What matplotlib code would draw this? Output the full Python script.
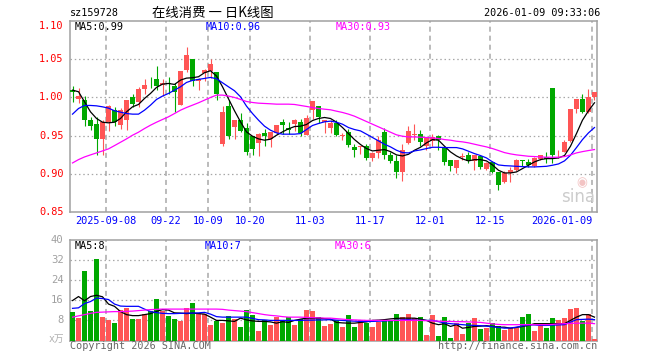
import numpy as np
import matplotlib
matplotlib.use("Agg")
import matplotlib.pyplot as plt

# daily candles, sz159728 (oldest -> newest)
opens = [1.010, 0.998, 0.997, 0.970, 0.965, 0.946, 0.968, 0.983, 0.964, 0.970,
         1.000, 0.994, 1.011, 1.023, 1.024, 1.016, 1.019, 1.015, 0.990, 1.036,
         1.050, 1.021, 1.032, 1.035, 1.034, 0.939, 0.989, 0.961, 0.971, 0.9605,
         0.950, 0.940, 0.9535, 0.945, 0.9535, 0.9675, 0.9605, 0.965, 0.9675, 0.9504,
         0.983, 0.9886, 0.9675, 0.9596, 0.9667, 0.949, 0.9548, 0.935, 0.935, 0.936,
         0.9211, 0.9272, 0.9548, 0.9241, 0.9167, 0.9022, 0.9404, 0.9504, 0.9526, 0.936,
         0.943, 0.9491, 0.9342, 0.9184, 0.9079, 0.9219, 0.9241, 0.9167, 0.9228, 0.9066,
         0.9154, 0.9022, 0.889, 0.9009, 0.9044, 0.9184, 0.9154, 0.9096, 0.9197, 0.9219,
         1.0118, 0.9254, 0.9285, 0.943, 0.9855, 0.9974, 0.9811, 1.000]
highs = [1.015, 1.013, 1.002, 0.975, 0.974, 0.971, 0.990, 0.988, 0.986, 0.997,
         1.005, 1.014, 1.024, 1.027, 1.041, 1.024, 1.027, 1.019, 1.035, 1.066,
         1.050, 1.026, 1.038, 1.050, 1.034, 0.989, 0.997, 0.971, 0.979, 0.966,
         0.950, 0.9535, 0.958, 0.955, 0.9636, 0.972, 0.968, 0.972, 0.972, 0.977,
         0.995, 0.9886, 0.971, 0.971, 0.971, 0.9535, 0.958, 0.9395, 0.9368, 0.9386,
         0.9285, 0.949, 0.9605, 0.9285, 0.9241, 0.9386, 0.9623, 0.9649, 0.9579, 0.9474,
         0.9518, 0.9504, 0.9342, 0.9184, 0.9184, 0.9272, 0.9285, 0.9241, 0.9241, 0.9154,
         0.9167, 0.9022, 0.9035, 0.9088, 0.9197, 0.9184, 0.9197, 0.9219, 0.9241, 0.9285,
         1.0118, 0.9316, 0.9447, 0.9855, 0.9974, 1.0044, 1.0105, 1.0075]
lows = [0.994, 0.993, 0.962, 0.957, 0.924, 0.924, 0.956, 0.963, 0.958, 0.957,
        0.988, 0.988, 1.004, 1.013, 1.010, 1.002, 1.005, 0.981, 0.990, 1.034,
        1.015, 1.010, 1.021, 1.026, 0.997, 0.936, 0.945, 0.945, 0.954, 0.924,
        0.925, 0.923, 0.936, 0.935, 0.9526, 0.952, 0.952, 0.956, 0.949, 0.9504,
        0.972, 0.9667, 0.9535, 0.9535, 0.949, 0.9447, 0.935, 0.922, 0.9254, 0.9184,
        0.9167, 0.921, 0.9197, 0.914, 0.8947, 0.8904, 0.9386, 0.9447, 0.936, 0.9307,
        0.936, 0.9316, 0.911, 0.9035, 0.9009, 0.9175, 0.914, 0.9053, 0.9066, 0.9044,
        0.9009, 0.8789, 0.8877, 0.889, 0.9035, 0.9096, 0.9088, 0.9088, 0.9184, 0.914,
        0.914, 0.9211, 0.9285, 0.9417, 0.9798, 0.9798, 0.9798, 0.9965]
closes = [1.007, 1.002, 0.970, 0.962, 0.946, 0.968, 0.989, 0.968, 0.983, 0.997,
          0.992, 1.011, 1.016, 1.0225, 1.015, 1.019, 1.0175, 1.0075, 1.035, 1.056,
          1.021, 1.024, 1.036, 1.044, 1.004, 0.981, 0.950, 0.971, 0.956, 0.9285,
          0.932, 0.9526, 0.949, 0.955, 0.9636, 0.9636, 0.957, 0.970, 0.9535, 0.9724,
          0.995, 0.9746, 0.970, 0.9667, 0.9504, 0.9504, 0.9373, 0.9316, 0.936, 0.9211,
          0.9272, 0.9447, 0.9241, 0.9167, 0.9022, 0.9307, 0.9561, 0.9518, 0.9417, 0.9474,
          0.9482, 0.9447, 0.9154, 0.9096, 0.9184, 0.9228, 0.9167, 0.9241, 0.9088, 0.914,
          0.9022, 0.8846, 0.9009, 0.9044, 0.9184, 0.9167, 0.911, 0.9211, 0.9241, 0.9197,
          0.9241, 0.9263, 0.9417, 0.9855, 0.9974, 0.9811, 1.000, 1.0075]

# moving averages as drawn on the chart
ma5 = [1.0096, 1.0075, 0.9943, 0.9811, 0.9724, 0.9675, 0.9667, 0.9675, 0.9724, 0.9811,
       0.9877, 0.9908, 0.9987, 1.0053, 1.0132, 1.0175, 1.0184, 1.0171, 1.0228, 1.0254,
       1.0259, 1.0272, 1.0325, 1.0351, 1.0281, 1.0140, 0.9982, 0.9825, 0.9680, 0.9548,
       0.9491, 0.9456, 0.9439, 0.9452, 0.9504, 0.9548, 0.9588, 0.9618, 0.9623, 0.9645,
       0.9697, 0.9724, 0.9737, 0.9724, 0.9675, 0.9605, 0.9526, 0.9447, 0.9382, 0.9329,
       0.9298, 0.9307, 0.9316, 0.9289, 0.9246, 0.9232, 0.9254, 0.9307, 0.9346, 0.9404,
       0.9447, 0.9439, 0.9360, 0.9285, 0.9232, 0.9193, 0.9167, 0.9184, 0.9184, 0.9167,
       0.9114, 0.9044, 0.9009, 0.9009, 0.9022, 0.9066, 0.9110, 0.9154, 0.9184, 0.9197,
       0.9197, 0.9206, 0.9237, 0.9360, 0.9526, 0.9702, 0.9825, 0.9930]
ma10 = [0.9781, 0.9855, 0.9895, 0.9895, 0.9890, 0.9877, 0.9860, 0.9825, 0.9807, 0.9789,
        0.9781, 0.9781, 0.9833, 0.9899, 0.9974, 1.0018, 1.0053, 1.0096, 1.0140, 1.0197,
        1.0224, 1.0237, 1.0250, 1.0263, 1.0246, 1.0193, 1.0140, 1.0088, 1.0009, 0.9886,
        0.9789, 0.9702, 0.9623, 0.9570, 0.9535, 0.9518, 0.9518, 0.9518, 0.9526, 0.9579,
        0.9632, 0.9658, 0.9680, 0.9689, 0.9675, 0.9649, 0.9605, 0.9579, 0.9561, 0.9518,
        0.9474, 0.9430, 0.9386, 0.9351, 0.9307, 0.9276, 0.9272, 0.9298, 0.9311, 0.9329,
        0.9346, 0.9346, 0.9342, 0.9342, 0.9342, 0.9325, 0.9294, 0.9263, 0.9237, 0.9206,
        0.9154, 0.9114, 0.9105, 0.9101, 0.9096, 0.9092, 0.9088, 0.9088, 0.9092, 0.9096,
        0.9110, 0.9127, 0.9167, 0.9241, 0.9342, 0.9447, 0.9535, 0.9605]
ma30 = [0.9140, 0.9184, 0.9219, 0.9246, 0.9272, 0.9298, 0.9325, 0.9368, 0.9412, 0.9456,
        0.9504, 0.9544, 0.9592, 0.9636, 0.9675, 0.9711, 0.9746, 0.9789, 0.9833, 0.9868,
        0.9899, 0.9930, 0.9965, 1.0000, 1.0031, 1.0031, 1.0018, 1.0000, 0.9974, 0.9947,
        0.9934, 0.9925, 0.9921, 0.9917, 0.9912, 0.9912, 0.9912, 0.9908, 0.9895, 0.9882,
        0.9868, 0.9855, 0.9846, 0.9838, 0.9820, 0.9803, 0.9781, 0.9754, 0.9719, 0.9684,
        0.9649, 0.9614, 0.9579, 0.9544, 0.9509, 0.9491, 0.9482, 0.9482, 0.9478, 0.9474,
        0.9469, 0.9461, 0.9447, 0.9439, 0.9425, 0.9417, 0.9404, 0.9386, 0.9368, 0.9351,
        0.9329, 0.9303, 0.9276, 0.9259, 0.9246, 0.9237, 0.9228, 0.9224, 0.9219, 0.9215,
        0.9215, 0.9215, 0.9224, 0.9246, 0.9272, 0.9289, 0.9303, 0.9316]

# volume, 10k lots
volume = [11.2, 8.8, 27.5, 11.6, 32.3, 9.2, 8.0, 7.1, 12.3, 13.1,
          8.4, 8.7, 10.4, 11.6, 16.7, 11.7, 9.9, 8.4, 7.6, 13.1,
          15.1, 10.8, 10.7, 6.3, 7.6, 7.1, 9.9, 8.7, 5.2, 12.0,
          10.3, 3.6, 8.0, 6.3, 9.5, 8.0, 9.2, 6.3, 8.4, 12.3,
          11.6, 9.5, 5.9, 6.7, 8.0, 5.2, 10.3, 5.5, 8.0, 6.8,
          5.2, 7.5, 8.3, 8.0, 10.7, 9.5, 10.7, 9.1, 9.3, 2.3,
          10.3, 1.9, 9.5, 1.1, 7.1, 2.7, 7.1, 9.1, 4.7, 5.1,
          7.1, 5.9, 4.0, 5.1, 5.1, 9.5, 10.7, 3.9, 5.9, 5.1,
          9.1, 8.3, 9.1, 12.7, 13.1, 7.9, 10.7, 0.7]
vol_ma5 = [15.9, 17.5, 15.8, 17.5, 18.0, 17.4, 14.5, 13.6, 11.5, 10.3,
           9.9, 9.9, 10.3, 10.7, 11.6, 12.3, 12.1, 11.0, 10.9, 10.7,
           10.9, 10.7, 10.5, 9.3, 8.0, 8.0, 7.8, 7.6, 8.9, 8.2,
           7.8, 7.6, 7.6, 7.4, 6.9, 7.5, 7.2, 8.0, 8.5, 8.9,
           8.9, 8.9, 8.7, 8.5, 7.2, 7.0, 6.9, 6.9, 7.2, 7.4,
           8.0, 8.1, 8.3, 8.6, 8.8, 8.9, 8.9, 8.9, 8.5, 8.0,
           6.9, 6.3, 6.7, 5.6, 6.3, 4.9, 5.2, 5.6, 5.7, 5.9,
           5.6, 5.3, 5.3, 4.9, 5.2, 5.6, 6.0, 6.7, 6.7, 6.7,
           6.7, 6.7, 6.7, 8.0, 9.3, 10.3, 10.3, 9.3]
vol_ma10 = [12.8, 13.0, 14.7, 15.5, 16.9, 16.7, 16.3, 14.5, 13.7, 13.6,
            13.6, 13.6, 12.5, 11.5, 11.1, 10.8, 10.7, 10.7, 10.8, 10.9,
            10.9, 11.0, 11.2, 10.5, 9.5, 9.3, 9.3, 9.3, 9.3, 9.3,
            8.8, 8.3, 8.2, 8.0, 8.0, 8.0, 8.0, 8.0, 8.0, 8.1,
            8.1, 8.2, 8.2, 8.3, 8.1, 8.0, 7.8, 7.7, 7.6, 7.6,
            7.6, 7.7, 7.8, 7.9, 8.0, 8.2, 8.3, 8.1, 8.0, 8.0,
            8.0, 7.5, 7.0, 6.7, 6.5, 6.3, 6.1, 6.0, 5.9, 5.7,
            5.5, 5.2, 4.9, 5.0, 5.3, 5.8, 6.2, 6.2, 6.0, 6.0,
            6.1, 6.2, 6.3, 7.3, 8.3, 8.4, 8.5, 8.3]
vol_ma30 = [9.3, 9.8, 10.3, 10.8, 11.2, 11.3, 11.4, 11.5, 11.5, 11.6,
            11.7, 11.9, 12.1, 12.3, 12.4, 12.5, 12.5, 12.5, 12.5, 12.5,
            12.5, 12.5, 12.5, 12.5, 12.5, 12.4, 12.1, 11.9, 11.7, 11.5,
            11.1, 10.7, 10.3, 10.0, 9.8, 9.5, 9.3, 9.3, 9.3, 9.2,
            9.1, 9.0, 8.9, 8.9, 8.7, 8.5, 8.3, 8.2, 8.1, 8.0,
            8.0, 8.0, 8.0, 8.0, 8.0, 8.0, 8.0, 8.0, 8.0, 7.9,
            7.8, 7.7, 7.6, 7.6, 7.5, 7.5, 7.4, 7.3, 7.2, 6.9,
            6.6, 6.4, 6.3, 6.3, 6.3, 6.3, 6.3, 6.3, 6.3, 6.3,
            6.4, 6.6, 6.7, 6.8, 6.9, 6.9, 6.9, 6.7]

date_labels = ["2025-09-08", "09-22", "10-09", "10-20", "11-03",
               "11-17", "12-01", "12-15", "2026-01-09"]
date_pos = [6, 16, 23, 30, 40, 50, 60, 70, 87]

RED = "#ff5555"
GREEN = "#00a800"
GRID = "#a8a8a8"
MONO = ["DejaVu Sans Mono", "Noto Sans CJK SC"]

W, H = 660, 360
fig = plt.figure(figsize=(W / 100, H / 100), dpi=100)

def box(left, top, right, bottom):
    return [left / W, 1 - bottom / H, (right - left) / W, (bottom - top) / H]

ax = fig.add_axes(box(70, 21.3, 597, 211.7))
axv = fig.add_axes(box(70, 240, 597, 340.5))

o = np.array(opens)
c = np.array(closes)
x = np.arange(len(o))
cols = [RED if cc >= oo else GREEN for oo, cc in zip(o, c)]
xl = (-0.42, len(o) - 0.58)

# price panel
ax.vlines(x, lows, highs, colors=cols, linewidth=0.8, zorder=3)
ax.bar(x, np.maximum(np.abs(c - o), 0.0005), bottom=np.minimum(o, c),
       width=0.82, color=cols, linewidth=0, zorder=3)
ax.plot(x, ma5, color="black", lw=0.9, zorder=4)
ax.plot(x, ma10, color="#0000ff", lw=0.9, zorder=4)
ax.plot(x, ma30, color="#ff00ff", lw=0.9, zorder=4)
ax.set_xlim(xl)
ax.set_ylim(0.85, 1.10)

# volume panel
axv.bar(x, volume, width=0.82, color=cols, linewidth=0, zorder=3)
axv.plot(x, vol_ma5, color="black", lw=0.9, zorder=4)
axv.plot(x, vol_ma10, color="#0000ff", lw=0.9, zorder=4)
axv.plot(x, vol_ma30, color="#ff00ff", lw=0.9, zorder=4)
axv.set_xlim(xl)
axv.set_ylim(0, 40)

for a, hlines in [(ax, [0.90, 0.95, 1.00, 1.05]), (axv, [8, 16, 24, 32])]:
    for y in hlines:
        a.axhline(y, color=GRID, lw=0.9, ls=(0, (1.2, 2.2)), zorder=1)
    for p in date_pos:
        a.axvline(p - 0.42, color=GRID, lw=1.1, ls=(0, (3.3, 2.6)), zorder=1)
    for s in a.spines.values():
        s.set_color("#a0a0a0")
        s.set_linewidth(1.1)
    a.set_xticks([])
    a.set_yticks([])

# price axis labels
for v in [0.85, 0.90, 0.95, 1.00, 1.05, 1.10]:
    ax.text(-0.012, v, f"{v:.2f}", transform=ax.get_yaxis_transform(),
            ha="right", va="top" if v == 1.10 else "center",
            color="red", fontsize=7.4, family=MONO)
for lab, p in zip(date_labels, date_pos):
    ha = "right" if p == date_pos[-1] else "center"
    ax.text(p - 0.42, -0.025, lab, transform=ax.get_xaxis_transform(),
            ha=ha, va="top", color="#0000ff", fontsize=7.4, family=MONO)

# volume axis labels
for v in [8, 16, 24, 32, 40]:
    axv.text(-0.012, v, str(v), transform=axv.get_yaxis_transform(),
             ha="right", va="center", color="#a0a0a0", fontsize=7.6, family=MONO)
fig.text(64 / W, 1 - 339 / H, "x万", ha="right", va="center",
         color="#b0b0b0", fontsize=7, family=MONO)

def ftext(px, py, s, color, size=7.3, ha="left", fam=MONO):
    fig.text(px / W, 1 - py / H, s, ha=ha, va="center", color=color,
             fontsize=size, family=fam)

# header
ftext(70, 13, "sz159728", "black")
ftext(152, 12.5, "在线消费 一 日K线图", "black", size=9.6,
      fam=["Noto Sans CJK SC", "DejaVu Sans"])
ftext(600, 13, "2026-01-09 09:33:06", "black", ha="right")

ftext(75, 27.5, f"MA5:{ma5[-1]:.2f}", "black")
ftext(206, 27.5, f"MA10:{ma10[-1]:.2f}", "#0000ff")
ftext(336, 27.5, f"MA30:{ma30[-1]:.2f}", "#ff00ff")

ftext(75, 246, "MA5:8", "black")
ftext(205, 246, "MA10:7", "#0000ff")
ftext(335, 246, "MA30:6", "#ff00ff")

ftext(70, 346, "Copyright 2026 SINA.COM", "#666666")
ftext(597, 346, "http://finance.sina.com.cn", "#666666", ha="right")

# sina watermark
ftext(595, 197, "sina", "#cccccc", size=12, ha="right", fam=["DejaVu Sans"])
ftext(582, 183, "◉", "#f3c4c4", size=9, ha="center", fam=["DejaVu Sans"])

fig.savefig("out.png", dpi=100)
